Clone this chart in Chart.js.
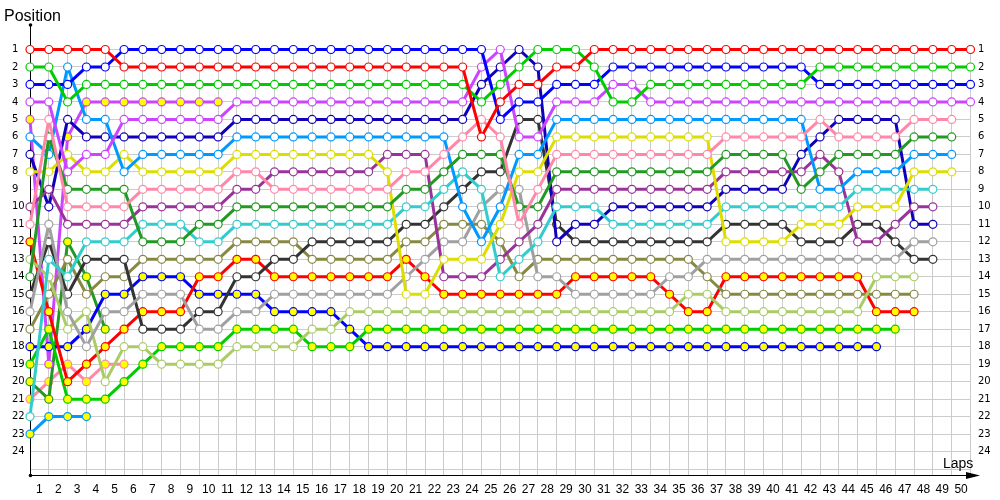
<!DOCTYPE html>
<html><head><meta charset="utf-8">
<script src="https://cdn.jsdelivr.net/npm/chart.js@4.4.1/dist/chart.umd.min.js"></script>
<style>html,body{margin:0;padding:0;background:#fff}#wrap{width:1000px;height:500px}</style>
</head><body><div id="wrap"><canvas id="c" width="1000" height="500"></canvas></div>
<script>
// ---- data: position on each lap (index 0 = grid / start) ----
const lapLabels = [1,2,3,4,5,6,7,8,9,10,11,12,13,14,15,16,17,18,19,20,21,22,23,24,25,26,27,28,29,30,31,32,33,34,35,36,37,38,39,40,41,42,43,44,45,46,47,48,49,50];
const positionLabels = [1,2,3,4,5,6,7,8,9,10,11,12,13,14,15,16,17,18,19,20,21,22,23,24];

const redW    = [1,1,1,1,1, 2,2,2,2,2,2,2,2,2,2, 2,2,2,2,2,2,2,2,2, 6,4,3,3,2,2, 1,1,1,1,1,1,1,1,1,1, 1,1,1,1,1,1,1,1,1,1,1];
const greenW  = [2,2,4, 3,3,3,3,3,3,3,3,3,3, 3,3,3,3,3,3,3,3,3,3,3, 4,3,2,1,1,1,2,4,4, 3,3,3,3,3,3,3,3,3, 2,2,2,2,2,2,2,2,2];
const blueW   = [3,3,3,2,2, 1,1,1,1,1,1,1,1,1,1, 1,1,1,1,1,1,1,1,1,1, 5,4,4,3,3,3, 2,2,2,2,2,2,2,2,2,2,2, 3,3,3,3,3,3,3,3,3];
const violetW = [4,4,8,7,7, 5,5,5,5,5,5, 4,4,4,4,4,4,4,4,4,4,4,4,4, 2,1,6,6,4,4,4,3,3, 4,4,4,4,4,4,4,4,4,4,4,4,4,4,4,4,4,4];
const pinkW   = [11,5,10,10,10,10, 9,9,9,9,9, 8,8, 9,9,9,9,9,9,9, 8,8,7,6,5,6,11,9, 7,7,7,7,7,7,7,7,7, 6,6,6,6,6, 5, 6,6,6,6, 5,5,5];
const dgreenW = [14,6,9,9,9,9, 12,12,12,11,11, 10,10,10,10,10,10,10,10,10, 9,9,8,7,7,7,10,10, 8,8,8,8,8,8,8,8,8, 7,7,7,7, 9,8, 7,7,7,7, 6,6,6];
const lblueW  = [6,7,2,5,5,8, 7,7,7,7,7, 6,6,6,6,6,6,6,6,6,6,6,6, 10,12,10,7,7, 5,5,5,5,5,5,5,5,5,5,5,5,5,5, 9,9,8,8,8,7,7,7];
const yellowW = [8,8,7,8,8,7, 8,8,8,8,8, 7,7,7,7,7,7,7,7, 8,15,15,13,13,13,11,8,8, 6,6,6,6,6,6,6,6,6, 12,12,12,12, 11,11,11,10,10,10,8,8,8];
const cyanW   = [22,13,14,12,12,12, 11,11,11,12,12, 11,11,11,11,11,11,11,11,11, 10,10,9,8,9,14,13,12, 10,10,10, 11,11,11,11,11,11, 10,10,10,10,10,10,10, 9,9,9,9,9];
const purpleW = [10,9,11,11,11,11, 10,10,10,10,10, 9,9, 8,8,8,8,8,8, 7,7,7, 14,14,14,13,12,11, 9,9,9,9,9,9,9,9,9, 8,8,8,8,8, 7,8,12,12,11,10,10];
const dblueW  = [7,10,5, 6,6,6,6,6,6,6,6, 5,5,5,5,5,5,5,5,5,5,5,5,5, 3,2,1,2,12,11,11, 10,10,10,10,10,10, 9,9,9,9, 7,6,5,5,5,5,11,11];
const grayW   = [16,11,16,18,16,16, 15,15,15,17,17,16,16, 15,15,15,15,15,15,15, 14,13,12,12,10,9,9,14,14, 15,15,15,15,15, 14,14, 13,13,13,13,13,13,13,13,13,13,13, 12,12];
const blackW  = [15,12,15,13,13,13, 17,17,17,16,16, 14,14,13,13, 12,12,12,12,12, 11,11,10,9,8,8,5,5,11, 12,12,12,12,12,12,12,12, 11,11,11,11, 12,12,12,11,11,12,13,13];
const lgreenW = [13,14,17,16,20,18,18, 19,19,19,19, 18,18,18,18, 17,17, 16,16,16,16,16,16,16,16,16,16,16,16,16,16,16,16,16,16, 15,15, 16,16,16,16,16,16,16,16, 14,14,14];
const oliveW  = [17,15,13,15,14,14, 13,13,13,13,13, 12,12,12,12, 13,13,13,13,13, 12,12,11,11,11,12,14, 13,13,13,13,13,13,13,13,13, 14, 15,15,15,15,15,15,15,15,15,15,15];
const redY    = [12,16,20,19,18,17, 16,16,16,14,14,13,13, 14,14,14,14,14,14,14, 13,14, 15,15,15,15,15,15,15, 14,14,14,14,14, 15,16,16, 14,14,14,14,14,14,14,14, 16,16,16];
const greenY  = [19,17,21,21,21,20,19, 18,18,18,18, 17,17,17,17, 18,18,18, 17,17,17,17,17,17,17,17,17,17,17,17,17,17,17,17,17,17,17,17,17,17,17,17,17,17,17,17,17];
const blueY   = [18,18,18,17,15,15, 14,14,14, 15,15,15,15, 16,16,16,16, 17, 18,18,18,18,18,18,18,18,18,18,18,18,18,18,18,18,18,18,18,18,18,18,18,18,18,18,18,18];
const violetY = [5,19,6,4,4,4,4,4,4,4,4];
const dgreenY = [20,21,12,14,17];
const pinkY   = [21,20,19,20,19,19];
const lblueY  = [23,22,22,22];

// ---- styles ----
const WHITE = '#ffffff', YEL = '#ffff00';
const series = [
  [redW,'#ff0000',WHITE],[greenW,'#00cc00',WHITE],[blueW,'#0000ff',WHITE],[violetW,'#cc44ff',WHITE],
  [pinkW,'#ff88aa',WHITE],[dgreenW,'#229922',WHITE],[lblueW,'#0099ff',WHITE],[yellowW,'#dddd00',WHITE],
  [cyanW,'#33cccc',WHITE],[purpleW,'#993399',WHITE],[dblueW,'#1100bb',WHITE],[grayW,'#a0a0a0',WHITE],
  [blackW,'#333333',WHITE],[lgreenW,'#aacc66',WHITE],[oliveW,'#888844',WHITE],[redY,'#ff0000',YEL],
  [greenY,'#00cc00',YEL],[blueY,'#0000ff',YEL],[violetY,'#cc44ff',YEL],[dgreenY,'#229922',YEL],
  [pinkY,'#ff88aa',YEL],[lblueY,'#0099ff',YEL]
];

const datasets = series.map(([arr,col,fill]) => ({
  data: arr.map((v,i)=>({x:i,y:v})),
  borderColor: col, borderWidth: 3,
  pointRadius: 4, pointBorderWidth: 1.2, pointBorderColor: col, pointBackgroundColor: fill,
  tension: 0, fill: false, clip: false, xAxisID: 'x', yAxisID: 'y'
}));

const axesPlugin = {
  id: 'axesDeco',
  beforeDatasetsDraw(chart){
    const {ctx, chartArea:{left,bottom}} = chart;
    const L = Math.round(left)+0.5, B = Math.round(bottom)+0.5;
    ctx.save();
    ctx.strokeStyle = '#000'; ctx.fillStyle = '#000'; ctx.lineWidth = 1;
    ctx.beginPath(); ctx.moveTo(L, 25); ctx.lineTo(L, B); ctx.lineTo(972, B); ctx.stroke();
    ctx.beginPath(); ctx.moveTo(980, B); ctx.lineTo(966, B-3.5); ctx.lineTo(966, B+3.5); ctx.closePath(); ctx.fill();
    ctx.beginPath(); ctx.arc(L, 25, 1.8, 0, Math.PI*2); ctx.fill();
    ctx.beginPath(); ctx.arc(L, B, 1.8, 0, Math.PI*2); ctx.fill();
    ctx.font = '16px "Liberation Sans", Arial, sans-serif';
    ctx.textBaseline = 'alphabetic'; ctx.textAlign = 'left';
    ctx.fillText('Position', 4, 21);
    ctx.font = '14px "Liberation Sans", Arial, sans-serif';
    ctx.fillText('Laps', 943, 468);
    ctx.restore();
  }
};

const tickFontY = {family:'"DejaVu Sans", Verdana, sans-serif', size:10};
new Chart(document.getElementById('c'), {
  type: 'line',
  data: {datasets},
  options: {
    responsive: false, animation: false, devicePixelRatio: 1, events: [],
    layout: {padding: {left: 12, right: 0, top: 46, bottom: 0}},
    plugins: {legend: {display: false}, tooltip: {enabled: false}},
    scales: {
      x: {
        type: 'linear', min: 0, max: 50, position: 'bottom',
        grid: {color: '#cccccc', lineWidth: 1, drawTicks: false},
        border: {display: false},
        ticks: {display: false, stepSize: 1},
        afterBuildTicks(s){ s.ticks = [0].concat(lapLabels).map(v=>({value:v})); },
        afterFit(s){ s.height = 0; }
      },
      xl: {
        type: 'linear', min: 0, max: 50, position: 'bottom',
        grid: {display: false, drawTicks: false},
        border: {display: false},
        ticks: {autoSkip: false, maxRotation: 0, minRotation: 0, padding: 7, color: '#000',
                font: {family: '"Liberation Sans", Arial, sans-serif', size: 12},
                callback: (v, i) => String(lapLabels[i])},
        afterBuildTicks(s){ s.ticks = lapLabels.map(v=>({value: v-0.5})); },
        afterFit(s){ s.height = 25; }
      },
      y: {
        type: 'linear', reverse: true, min: 0.8, max: 25.34, position: 'left',
        grid: {color: '#cccccc', lineWidth: 1, drawTicks: false},
        border: {display: false},
        ticks: {crossAlign: 'far', padding: 0, color: '#000', font: tickFontY, autoSkip: false,
                callback: (v, i) => (i < positionLabels.length ? String(positionLabels[i]) : '')},
        afterBuildTicks(s){ s.ticks = positionLabels.concat([25]).map(v=>({value:v})); },
        afterFit(s){ s.width = 18; }
      },
      y2: {
        type: 'linear', reverse: true, min: 0.8, max: 25.34, position: 'right',
        grid: {display: false, drawTicks: false},
        border: {display: false},
        ticks: {padding: 7.5, color: '#000', font: tickFontY, autoSkip: false,
                callback: (v, i) => String(positionLabels[i])},
        afterBuildTicks(s){ s.ticks = positionLabels.map(v=>({value:v})); },
        afterFit(s){ s.width = 29.5; }
      }
    }
  },
  plugins: [axesPlugin]
});
</script>
</body></html>
